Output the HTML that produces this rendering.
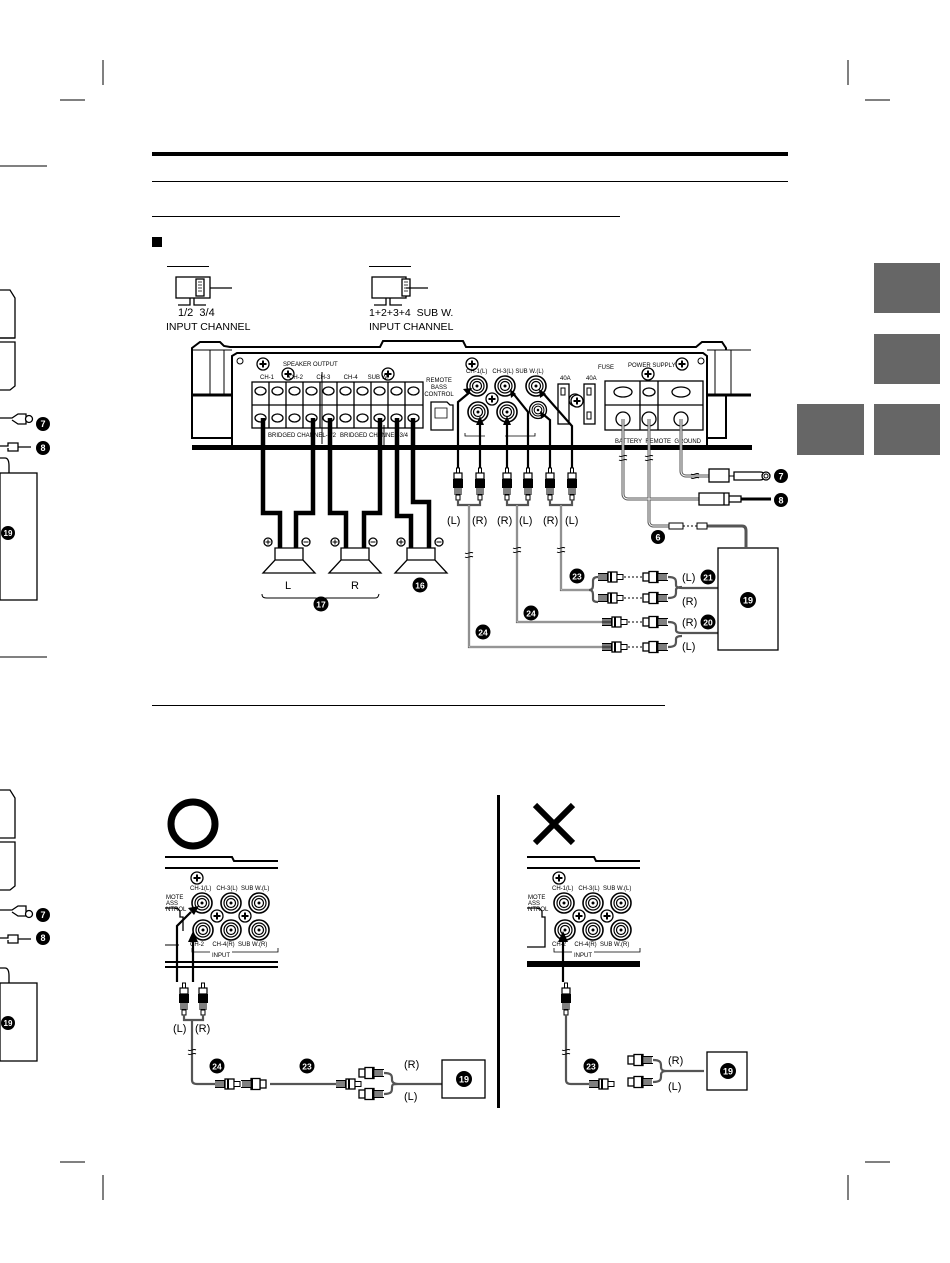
<!DOCTYPE html>
<html><head><meta charset="utf-8"><style>
html,body{margin:0;padding:0;background:#fff}
svg{display:block}
text{font-family:"Liberation Sans",sans-serif}
.t{font-size:6px;fill:#000}
.lb{font-size:11px;fill:#000}
</style></head><body>
<svg width="950" height="1263" viewBox="0 0 950 1263" xmlns="http://www.w3.org/2000/svg">
<defs>
<g id="plug">
<rect x="-1.5" y="0" width="3" height="5" fill="#fff" stroke="#000" stroke-width="1"/>
<rect x="-4" y="5" width="8" height="6" fill="#fff" stroke="#000" stroke-width="1.2"/>
<rect x="-5" y="11" width="10" height="9" fill="#000"/>
<path d="M-4 20h8M-4 22h8M-4 24h8M-4 26h8" stroke="#000" stroke-width="1"/>
<rect x="-2" y="27" width="4" height="5" fill="#fff" stroke="#000"/>
</g>
<g id="male">
<path d="M0 -3.5h10M0 3.5h10" stroke="#000"/>
<path d="M1 -3v6M3 -3v6M5 -3v6M7 -3v6M9 -3v6" stroke="#000" stroke-width="1"/>
<rect x="10" y="-5" width="9" height="10" fill="#fff" stroke="#000" stroke-width="1.3"/>
<rect x="12" y="-5" width="2" height="10" fill="#000"/>
<rect x="19" y="-2.5" width="6" height="5" fill="#fff" stroke="#000"/>
</g>
<g id="female">
<rect x="0" y="-4" width="6" height="8" fill="#fff" stroke="#000" stroke-width="1.3"/>
<rect x="6" y="-5.5" width="9" height="11" fill="#fff" stroke="#000" stroke-width="1.3"/>
<rect x="13" y="-5.5" width="2" height="11" fill="#000"/>
<path d="M15 -3.5h10M15 3.5h10M17 -3v6M19 -3v6M21 -3v6M23 -3v6" stroke="#000"/>
</g>
<g id="rca"><circle r="10" fill="#fff" stroke="#000" stroke-width="1.6"/><circle r="7" fill="none" stroke="#000" stroke-width="1.2"/><circle r="4.5" fill="none" stroke="#000" stroke-width="1.2"/><circle r="1.5" fill="#000"/></g>
<g id="scr"><circle r="6" fill="#fff" stroke="#000" stroke-width="1.3"/><path d="M-3.5 0h7M0 -3.5v7" stroke="#000" stroke-width="2"/></g>
<g id="brk"><path d="M-4 -2c3 2 5 -2 8 0M-4 2c3 2 5 -2 8 0" stroke="#000" fill="none" stroke-width="0.9"/></g>
</defs>

<g stroke="#000" stroke-width="1">
<path d="M103 60v25M848 60v25M60 100h25M865 100h25M103 1175v25M848 1175v25M60 1162h25M865 1162h25"/>
<path d="M0 166h47M0 657h47"/>
</g>
<rect x="152" y="152" width="636" height="4" fill="#000"/>
<path d="M152 181.5h636M152 216.5h468M152 705.5h513" stroke="#000"/>
<rect x="152" y="237" width="10" height="10" fill="#000"/>

<g fill="#666"><rect x="874" y="263" width="66" height="50"/><rect x="874" y="334" width="66" height="50"/><rect x="874" y="404" width="66" height="51"/><rect x="797" y="404" width="67" height="51"/></g>

<g stroke="#000" fill="#fff" stroke-width="1.3">
<path d="M0 290h10l5 8v40h-15M0 342h15v44l-5 4h-10"/>
<path d="M0 338h15"/>
<path d="M0 418h12l6-4h8v10h-8l-6-4" fill="none"/>
<circle cx="29" cy="419" r="3.5"/>
<path d="M0 446h8v-3h10v8h-10v-3M18 447h13"/>
<rect x="0" y="473" width="37" height="127"/>
<path d="M0 458h5c3 0 4 4 4 8v7" fill="none"/>
<path d="M0 790h10l5 8v40h-15M0 842h15v44l-5 4h-10M0 838h15"/>
<path d="M0 910h12l6-4h8v10h-8l-6-4" fill="none"/>
<circle cx="29" cy="914" r="3.5"/>
<path d="M0 938h8v-3h10v8h-10v-3M18 939h13"/>
<rect x="0" y="983" width="37" height="78"/>
<path d="M0 968h5c3 0 4 4 4 8v7" fill="none"/>
</g>

<g fill="#000">
<circle cx="43" cy="424" r="7"/><circle cx="43" cy="448" r="7"/><circle cx="8" cy="533" r="7"/>
<circle cx="43" cy="915" r="7"/><circle cx="43" cy="938" r="7"/><circle cx="8" cy="1023" r="7"/>
</g>
<g fill="#fff" font-weight="bold" font-size="9" text-anchor="middle">
<text x="43" y="427">7</text><text x="43" y="451">8</text><text x="8" y="536" font-size="8">19</text>
<text x="43" y="918">7</text><text x="43" y="941">8</text><text x="8" y="1026" font-size="8">19</text>
</g>

<path d="M167 266.5h42M369 266.5h42" stroke="#000"/>
<g stroke="#000" fill="#fff" stroke-width="1.3">
<rect x="176" y="277" width="34" height="21"/><rect x="372" y="277" width="34" height="21"/>
<rect x="196" y="279" width="8" height="17" fill="#fff"/><rect x="402" y="279" width="8" height="17"/>
<path d="M210 288h22M406 288h22" fill="none"/>
<path d="M178 305h12v-7M194 298v7h12M374 305h12v-7M390 298v7h12" fill="none"/>
</g>
<g stroke="#000" stroke-width="0.7"><path d="M198 282h4M198 285h4M198 288h4M198 291h4M404 282h4M404 285h4M404 288h4M404 291h4"/></g>
<text x="178" y="316" font-size="11">1/2 &#160;3/4</text>
<text x="166" y="330" font-size="10.5">INPUT CHANNEL</text>
<text x="369" y="316" font-size="10.5">1+2+3+4 &#160;SUB W.</text>
<text x="369" y="330" font-size="10.5">INPUT CHANNEL</text>

<g stroke="#000" fill="#fff" stroke-width="2">
<path d="M192 348l8-6h20l4 4l6 1h150l3-6h80l3 6h230l6-5h20l4 6v90h-534z"/>
<path d="M232 356l5 -3h466l4 3v92h-475z" stroke-width="2"/>
<path d="M192 395h40M707 395h44" stroke-width="3"/>
<path d="M192 350h40M707 350h44" stroke-width="1"/>
</g>
<rect x="192" y="445" width="560" height="5" fill="#000"/>
<rect x="210" y="350" width="14" height="44" fill="#fff" stroke="#000" stroke-width="1"/>
<rect x="715" y="350" width="16" height="44" fill="#fff" stroke="#000" stroke-width="1"/>
<circle cx="240" cy="361" r="3" fill="#fff" stroke="#000"/><circle cx="701" cy="361" r="3" fill="#fff" stroke="#000"/>

<g stroke="#000" stroke-width="1.3" fill="#fff">
<rect x="252" y="382" width="171" height="46"/>
<path d="M269 382v46M286 382v46M303 382v46M320 382v46M337 382v46M354 382v46M371 382v46M388 382v46M405 382v46M252 405h171"/>
</g>
<g fill="#fff" stroke="#000" stroke-width="1.3">
<ellipse cx="260.5" cy="391" rx="5.5" ry="4"/><ellipse cx="277.5" cy="391" rx="5.5" ry="4"/><ellipse cx="294.5" cy="391" rx="5.5" ry="4"/><ellipse cx="311.5" cy="391" rx="5.5" ry="4"/><ellipse cx="328.5" cy="391" rx="5.5" ry="4"/><ellipse cx="345.5" cy="391" rx="5.5" ry="4"/><ellipse cx="362.5" cy="391" rx="5.5" ry="4"/><ellipse cx="379.5" cy="391" rx="5.5" ry="4"/><ellipse cx="396.5" cy="391" rx="5.5" ry="4"/><ellipse cx="413.5" cy="391" rx="5.5" ry="4"/>
<ellipse cx="260.5" cy="418" rx="5.5" ry="4"/><ellipse cx="277.5" cy="418" rx="5.5" ry="4"/><ellipse cx="294.5" cy="418" rx="5.5" ry="4"/><ellipse cx="311.5" cy="418" rx="5.5" ry="4"/><ellipse cx="328.5" cy="418" rx="5.5" ry="4"/><ellipse cx="345.5" cy="418" rx="5.5" ry="4"/><ellipse cx="362.5" cy="418" rx="5.5" ry="4"/><ellipse cx="379.5" cy="418" rx="5.5" ry="4"/><ellipse cx="396.5" cy="418" rx="5.5" ry="4"/><ellipse cx="413.5" cy="418" rx="5.5" ry="4"/>
</g>
<use href="#scr" x="263" y="364"/><use href="#scr" x="288" y="374"/><use href="#scr" x="388" y="374"/>
<text x="283" y="366" class="t">SPEAKER OUTPUT</text>
<text x="260" y="379" class="t">CH-1 &#160;&#160;&#160;&#160;&#160;&#160;&#160;&#160;CH-2 &#160;&#160;&#160;&#160;&#160;&#160;&#160;CH-3 &#160;&#160;&#160;&#160;&#160;&#160;&#160;CH-4 &#160;&#160;&#160;&#160;&#160;SUB W.</text>
<text x="268" y="437" class="t">BRIDGED CHANNEL-1/2</text>
<text x="340" y="437" class="t">BRIDGED CHANNEL-3/4</text>
<path d="M322 372v72M384 425v20" stroke="#000"/>
<text x="439" y="382" class="t" text-anchor="middle">REMOTE</text><text x="439" y="389" class="t" text-anchor="middle">BASS</text><text x="439" y="396" class="t" text-anchor="middle">CONTROL</text>
<path d="M431 430v-28h16l3 3h3v25z" fill="#fff" stroke="#000" stroke-width="1.3"/>
<path d="M435 408h12v10h-12z" fill="none" stroke="#000" stroke-width="0.8"/>
<use href="#scr" x="472" y="364"/><use href="#scr" x="492" y="399"/><use href="#scr" x="575" y="400"/>
<use href="#rca" x="477" y="386"/><use href="#rca" x="505" y="386"/><use href="#rca" x="536" y="386"/>
<use href="#rca" x="478" y="412"/><use href="#rca" x="507" y="412"/><use href="#rca" x="538" y="410" transform="translate(538 410) scale(.85) translate(-538 -410)"/>
<text x="466" y="373" class="t">CH-1(L) &#160;&#160;CH-3(L) SUB W.(L)</text>
<path d="M465 433v3h20M505 436h30v-3" stroke="#000" fill="none" stroke-width="0.8"/>
<text x="598" y="369" class="t">FUSE</text><text x="560" y="380" class="t">40A</text><text x="586" y="380" class="t">40A</text>
<rect x="558" y="384" width="11" height="40" fill="#fff" stroke="#000" stroke-width="1.3"/><rect x="584" y="384" width="11" height="40" fill="#fff" stroke="#000" stroke-width="1.3"/>
<rect x="561" y="388" width="4" height="7" fill="none" stroke="#000"/><rect x="587" y="388" width="4" height="7" fill="none" stroke="#000"/><rect x="587" y="412" width="4" height="7" fill="none" stroke="#000"/>
<use href="#scr" x="577" y="401"/>
<text x="628" y="367" class="t">POWER SUPPLY</text>
<use href="#scr" x="682" y="364"/><use href="#scr" x="648" y="374"/>
<g stroke="#000" stroke-width="1.3" fill="#fff">
<rect x="605" y="381" width="98" height="49"/><path d="M640 381v49M658 381v49M605 405h98"/>
<ellipse cx="623" cy="392" rx="9" ry="5"/><ellipse cx="649" cy="392" rx="6" ry="4"/><ellipse cx="681" cy="392" rx="9" ry="5"/>
<circle cx="623" cy="419" r="7"/><circle cx="649" cy="419" r="7"/><circle cx="681" cy="419" r="7"/>
</g>
<text x="615" y="443" class="t">BATTERY &#160;REMOTE &#160;GROUND</text>

<g stroke="#000" stroke-width="4.5" fill="none">
<path d="M263 418V513h17v35M313 418V513h-17v35"/>
<path d="M330 418V513h16v35M380 418V513h-16v35"/>
<path d="M397 418V516h14v32M413 418V502h16v46"/>
</g>
<g fill="#fff" stroke="#000" stroke-width="1.3">
<path d="M275 548h28v12h-28z M275 560h28l12 13h-52z"/>
<path d="M341 548h28v12h-28z M341 560h28l12 13h-52z"/>
<path d="M407 548h28v12h-28z M407 560h28l12 13h-52z"/>
<circle cx="268" cy="542" r="4"/><circle cx="306" cy="542" r="4"/><circle cx="335" cy="542" r="4"/><circle cx="373" cy="542" r="4"/><circle cx="401" cy="542" r="4"/><circle cx="439" cy="542" r="4"/>
</g>
<path d="M265.5 542h5M268 539.5v5M303.5 542h5M332.5 542h5M335 539.5v5M370.5 542h5M398.5 542h5M401 539.5v5M436.5 542h5" stroke="#000" stroke-width="1"/>
<text x="285" y="589" class="lb">L</text><text x="351" y="589" class="lb">R</text>
<path d="M262 594c0 4 3 4 5 4h48c4 0 5 2 6 4c1-2 2-4 6-4h47c3 0 4 0 5-4" stroke="#000" fill="none"/>
<circle cx="321" cy="604" r="7.5"/><text x="321" y="607.5" fill="#fff" font-size="8.5" font-weight="bold" text-anchor="middle">17</text>
<circle cx="420" cy="585" r="7.5"/><text x="420" y="588.5" fill="#fff" font-size="8.5" font-weight="bold" text-anchor="middle">16</text>

<g stroke="#000" stroke-width="2.2" fill="none">
<path d="M458 468V402l12-10"/><path d="M480 468V423"/><path d="M507 468V423"/><path d="M528 468V412l-16-20"/><path d="M550 468V420l-6-5"/><path d="M572 468V426l-30-34"/>
</g>
<g fill="#000">
<path d="M472 388l-9 1l5 6z"/><path d="M480 416l-4 9h8z"/><path d="M507 416l-4 9h8z"/><path d="M510 389l1 9l5-4z"/><path d="M540 411l1 8l5-4z"/><path d="M539 389l1 9l6-4z"/>
</g>
<use href="#plug" x="458" y="468"/><use href="#plug" x="480" y="468"/><use href="#plug" x="507" y="468"/><use href="#plug" x="528" y="468"/><use href="#plug" x="550" y="468"/><use href="#plug" x="572" y="468"/>
<g fill="none" stroke="#555" stroke-width="2.2">
<path d="M458 500v5h22v-5M469 505V647h154"/>
<path d="M507 500v5h21v-5M517 505V622h106"/>
<path d="M550 500v5h22v-5M561 505V590h28"/>
<path d="M589 590c4 0 4-3 4-6v-3c0-3 2-4 5-4M589 590c4 0 4 3 4 6v3c0 2 2 3 5 3"/>
</g>
<g fill="none" stroke="#fff" stroke-width="0.7">
<path d="M469 505V647h154M517 505V622h106M561 505V590h28"/>
</g>
<use href="#brk" x="469" y="555"/><use href="#brk" x="517" y="550"/><use href="#brk" x="561" y="550"/>
<text x="447" y="524" class="lb">(L)</text><text x="472" y="524" class="lb">(R)</text><text x="497" y="524" class="lb">(R)</text><text x="519" y="524" class="lb">(L)</text><text x="543" y="524" class="lb">(R)</text><text x="565" y="524" class="lb">(L)</text>
<use href="#male" x="598" y="577"/><use href="#female" x="643" y="577"/>
<use href="#male" x="598" y="598"/><use href="#female" x="643" y="598"/>
<use href="#male" x="602" y="622"/><use href="#female" x="643" y="622"/>
<use href="#male" x="602" y="647"/><use href="#female" x="643" y="647"/>
<path d="M624 577h18M624 598h18M628 622h14M628 647h14" stroke="#000" stroke-dasharray="2 2"/>
<g fill="none" stroke="#555" stroke-width="2.2">
<path d="M668 577c8 0 8 3 8 6v2c0 2 2 3 6 3h36M668 598c8 0 8-3 8-6v-2c0-2 2-3 6-3"/>
<path d="M668 622c8 0 8 3 8 6v2c0 2 2 3 6 3h36M668 647c8 0 8-3 8-6v-2c0-2 2-3 6-3"/>
</g>
<text x="682" y="581" class="lb">(L)</text><text x="682" y="605" class="lb">(R)</text><text x="682" y="626" class="lb">(R)</text><text x="682" y="650" class="lb">(L)</text>
<rect x="718" y="548" width="60" height="102" fill="#fff" stroke="#000" stroke-width="1.3"/>
<g fill="#000"><circle cx="708" cy="577" r="7.5"/><circle cx="708" cy="622" r="7.5"/><circle cx="748" cy="600" r="8"/><circle cx="577" cy="576" r="7.5"/><circle cx="531" cy="613" r="7.5"/><circle cx="483" cy="632" r="7.5"/><circle cx="658" cy="537" r="7"/><circle cx="781" cy="476" r="7"/><circle cx="781" cy="500" r="7"/></g>
<g fill="#fff" font-size="8.5" font-weight="bold" text-anchor="middle">
<text x="708" y="580.5">21</text><text x="708" y="625.5">20</text><text x="748" y="603.5" font-size="9">19</text><text x="577" y="579.5">23</text><text x="531" y="616.5">24</text><text x="483" y="635.5">24</text><text x="658" y="540.5" font-size="9">6</text><text x="781" y="479.5" font-size="9">7</text><text x="781" y="503.5" font-size="9">8</text>
</g>
<g fill="none" stroke="#555" stroke-width="3">
<path d="M623 419V494c0 3 2 5 5 5h100"/>
<path d="M649 419V522c0 2 2 4 4 4h16"/>
<path d="M681 419V471c0 3 2 5 5 5h23"/>
<path d="M697 526h45c3 0 4 2 4 5V548"/>
</g>
<g fill="none" stroke="#fff" stroke-width="1"><path d="M623 419V494c0 3 2 5 5 5h100M649 419V522c0 2 2 4 4 4h16M681 419V471c0 3 2 5 5 5h23"/></g>
<use href="#brk" x="623" y="458"/><use href="#brk" x="649" y="458"/><use href="#brk" x="695" y="476"/>
<rect x="709" y="469" width="20" height="13" fill="#fff" stroke="#000" stroke-width="1.3"/><path d="M729 476h5" stroke="#000"/><path d="M734 472h26c3 0 6 2 6 4s-3 4-6 4h-26z" fill="#fff" stroke="#000" stroke-width="1.3"/><circle cx="766" cy="476" r="4" fill="#fff" stroke="#000" stroke-width="1.3"/><circle cx="766" cy="476" r="2" fill="#fff" stroke="#000"/>
<path d="M699 493h30v12h-30z M724 493v12 M729 496h12v6h-12" fill="#fff" stroke="#000" stroke-width="1.3"/><path d="M741 499h30" stroke="#000" stroke-width="3"/>
<path d="M669 523h14v6h-14z" fill="#fff" stroke="#000"/><path d="M683 526h14" stroke="#000" stroke-dasharray="2 2"/><path d="M697 523h10v6h-10z" fill="#fff" stroke="#000"/>

<!-- bottom -->
<circle cx="193" cy="824" r="22" fill="none" stroke="#000" stroke-width="7"/>
<path d="M535 805l38 38M573 805l-38 38" stroke="#000" stroke-width="6"/>
<rect x="497" y="795" width="3" height="313" fill="#000"/>

<g stroke="#000" fill="none" stroke-width="2">
<path d="M165 857h67l2 4h44"/><path d="M165 868h113"/><path d="M165 962h113M165 967h113"/>
<path d="M527 857h67l2 4h44"/><path d="M527 868h113"/>
</g>
<rect x="527" y="961" width="113" height="6" fill="#000"/>
<path d="M165 908h12l3 3v6h3v14" stroke="#000" fill="none" stroke-width="1.3"/><path d="M165 945h14" stroke="#000"/>
<path d="M527 908h12l3 3v6h3v30h-18" stroke="#000" fill="none" stroke-width="1.3"/>
<use href="#scr" x="197" y="878"/><use href="#scr" x="217" y="916"/><use href="#scr" x="245" y="916"/>
<use href="#scr" x="559" y="878"/><use href="#scr" x="579" y="916"/><use href="#scr" x="607" y="916"/>
<use href="#rca" x="202" y="903"/><use href="#rca" x="231" y="903"/><use href="#rca" x="259" y="903"/>
<use href="#rca" x="203" y="930"/><use href="#rca" x="231" y="930"/><use href="#rca" x="259" y="930"/>
<use href="#rca" x="564" y="903"/><use href="#rca" x="593" y="903"/><use href="#rca" x="621" y="903"/>
<use href="#rca" x="565" y="930"/><use href="#rca" x="593" y="930"/><use href="#rca" x="621" y="930"/>
<text x="190" y="890" class="t">CH-1(L) &#160;&#160;CH-3(L) &#160;SUB W.(L)</text>
<text x="552" y="890" class="t">CH-1(L) &#160;&#160;CH-3(L) &#160;SUB W.(L)</text>
<text x="190" y="946" class="t">CH-2 &#160;&#160;&#160;&#160;CH-4(R) &#160;SUB W.(R)</text>
<text x="552" y="946" class="t">CH-2 &#160;&#160;&#160;&#160;CH-4(R) &#160;SUB W.(R)</text>
<text x="212" y="957" class="t">INPUT</text><text x="574" y="957" class="t">INPUT</text>
<text x="166" y="899" class="t">MOTE</text><text x="166" y="905" class="t">ASS</text><text x="166" y="911" class="t">NTROL</text>
<text x="528" y="899" class="t">MOTE</text><text x="528" y="905" class="t">ASS</text><text x="528" y="911" class="t">NTROL</text>
<path d="M192 948v4h18M232 952h46v-4M554 948v4h18M594 952h46v-4" stroke="#000" fill="none" stroke-width="0.8"/>
<g stroke="#000" stroke-width="2.2" fill="none"><path d="M177 982V926l14-14"/><path d="M193 982V940"/><path d="M563 982V940"/></g>
<g fill="#000"><path d="M199 906l-11 2l6 7z"/><path d="M193 931l-5 11h10z"/><path d="M563 931l-5 11h10z"/></g>
<use href="#plug" x="184" y="983"/><use href="#plug" x="203" y="983"/><use href="#plug" x="566" y="983"/>
<g fill="none" stroke="#555" stroke-width="2.2">
<path d="M184 1015v5h19v-5M192 1020V1080c0 3 2 4 5 4h18"/>
<path d="M270 1084h66"/>
<path d="M384 1073c8 0 8 3 8 6v1c0 2 2 4 6 4h44M384 1094c8 0 8-3 8-6v-1c0-3 2-3 6-3"/>
<path d="M566 1015V1080c0 3 2 4 5 4h18"/>
<path d="M653 1060c8 0 8 3 8 6v1c0 3 2 4 6 4h37M653 1082c8 0 8-3 8-6v-1c0-3 2-4 6-4"/>
</g>
<use href="#brk" x="192" y="1052"/><use href="#brk" x="566" y="1052"/>
<text x="173" y="1032" class="lb">(L)</text><text x="195" y="1032" class="lb">(R)</text>
<use href="#male" x="215" y="1084"/><use href="#female" x="241" y="1084" transform="translate(241 1084) scale(-1 1) translate(-266 -1084)"/>
<use href="#male" x="336" y="1084"/>
<use href="#female" x="359" y="1073"/><use href="#female" x="359" y="1094"/>
<text x="404" y="1068" class="lb">(R)</text><text x="404" y="1100" class="lb">(L)</text>
<rect x="442" y="1060" width="43" height="38" fill="#fff" stroke="#000" stroke-width="1.3"/>
<use href="#male" x="589" y="1084"/>
<use href="#female" x="628" y="1060"/><use href="#female" x="628" y="1082"/>
<text x="668" y="1064" class="lb">(R)</text><text x="668" y="1090" class="lb">(L)</text>
<rect x="707" y="1052" width="40" height="38" fill="#fff" stroke="#000" stroke-width="1.3"/>
<g fill="#000"><circle cx="217" cy="1066" r="7.5"/><circle cx="307" cy="1066" r="7.5"/><circle cx="464" cy="1079" r="8"/><circle cx="591" cy="1066" r="7.5"/><circle cx="728" cy="1071" r="8"/></g>
<g fill="#fff" font-size="8.5" font-weight="bold" text-anchor="middle">
<text x="217" y="1069.5">24</text><text x="307" y="1069.5">23</text><text x="464" y="1082.5" font-size="9">19</text><text x="591" y="1069.5">23</text><text x="728" y="1074.5" font-size="9">19</text>
</g>
</svg>
</body></html>
